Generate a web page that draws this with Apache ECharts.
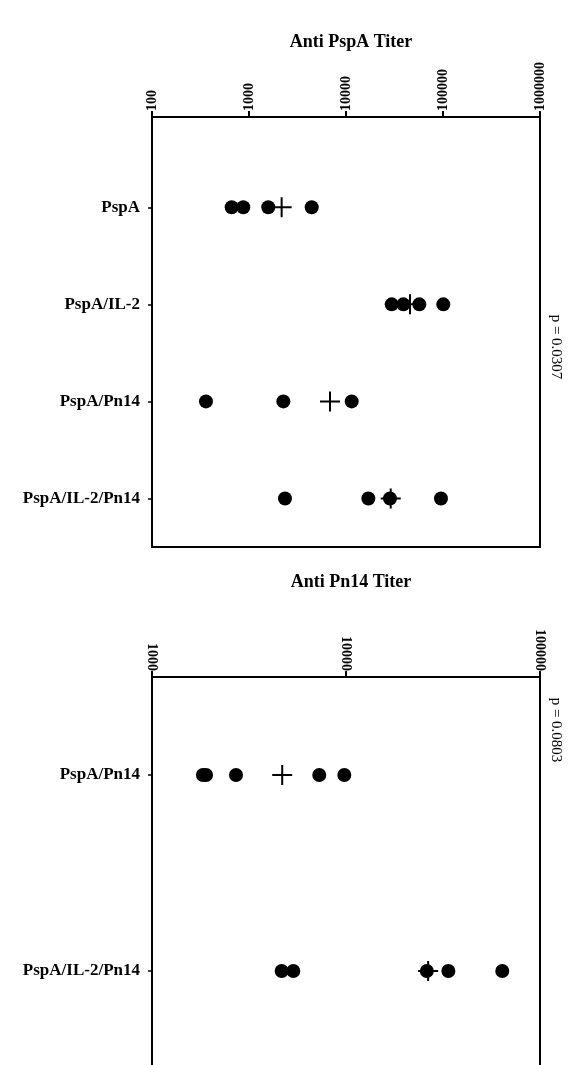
<!DOCTYPE html>
<html>
<head>
<meta charset="utf-8">
<script src="https://cdn.jsdelivr.net/npm/echarts@6/dist/echarts.min.js"></script>
<style>html,body{margin:0;padding:0;background:#fff}#c{width:578px;height:1065px}</style>
</head>
<body>
<div id="c"></div>
<script>
// ---- data ----
var topCategories = ['PspA', 'PspA/IL-2', 'PspA/Pn14', 'PspA/IL-2/Pn14'];
var topTickLabels = ['100', '1000', '10000', '100000', '1000000'];
var pspaPspA = [663, 873, 1580, 4430];
var pspaIL2 = [29600, 39000, 57000, 100700];
var pspaPn14 = [360, 2260, 11450];
var pspaIL2Pn14 = [2350, 17000, 28400, 95300];
var pspaMeans = [2170, 45700, 6840, 28900];

var bottomCategories = ['PspA/Pn14', 'PspA/IL-2/Pn14'];
var bottomTickLabels = ['1000', '10000', '100000'];
var pn14Pn14 = [1830, 1900, 2710, 7280, 9800];
var pn14IL2Pn14 = [4660, 5350, 26100, 33700, 63900];
var pn14Means = [4690, 26500];

var pValues = ['p = 0.0307', 'p = 0.0803'];
var titles = ['Anti PspA Titer', 'Anti Pn14 Titer'];

// ---- build ----
function pts(arr, idx) { return arr.map(function (v) { return [v, idx]; }); }
var topDots = [].concat(pts(pspaPspA, 1), pts(pspaIL2, 2), pts(pspaPn14, 3), pts(pspaIL2Pn14, 4));
var topPlus = pspaMeans.map(function (v, i) { return [v, i + 1]; });
var botPos = [1, 3];
var botDots = [].concat(pts(pn14Pn14, botPos[0]), pts(pn14IL2Pn14, botPos[1]));
var botPlus = pn14Means.map(function (v, i) { return [v, botPos[i]]; });

var plusPath = 'path://M-1,-10h2v9h9v2h-9v9h-2v-9h-9v-2h9z';
var serif = '"Liberation Serif", "DejaVu Serif", serif';

function xAxis(gi, min, max, labels) {
  return {
    gridIndex: gi, type: 'log', logBase: 10, min: min, max: max, position: 'top',
    axisLine: { show: true, lineStyle: { color: '#000', width: 2 } },
    axisTick: { show: true, inside: false, length: 6, lineStyle: { color: '#000', width: 2 } },
    minorTick: { show: false },
    splitLine: { show: false },
    axisLabel: {
      rotate: -90, margin: 6, color: '#000', fontFamily: serif, fontWeight: 'bold', fontSize: 14,
      formatter: function (v) {
        var i = Math.round(Math.log10(v) - Math.log10(min));
        return labels[i] || '';
      }
    }
  };
}
function yAxis(gi, min, max, cats, vals) {
  return {
    gridIndex: gi, type: 'value', inverse: true, min: min, max: max,
    axisLine: { show: true, lineStyle: { color: '#000', width: 2 } },
    axisTick: { show: true, length: 4, customValues: vals, lineStyle: { color: '#000', width: 1.5 } },
    splitLine: { show: false },
    axisLabel: {
      customValues: vals, margin: 12, color: '#000', fontFamily: serif, fontWeight: 'bold', fontSize: 17,
      formatter: function (v) { return cats[vals.indexOf(Math.round(v))] || ''; }
    }
  };
}

var chart = echarts.init(document.getElementById('c'), null, { renderer: 'canvas' });
chart.setOption({
  backgroundColor: '#fff',
  animation: false,
  title: [
    { text: titles[0], left: 346, top: 28, textAlign: 'center',
      textStyle: { fontFamily: serif, fontWeight: 'bold', fontSize: 18, color: '#000' } },
    { text: titles[1], left: 346, top: 568, textAlign: 'center',
      textStyle: { fontFamily: serif, fontWeight: 'bold', fontSize: 18, color: '#000' } }
  ],
  grid: [
    { left: 152, right: 38, top: 117, height: 430, show: true, borderColor: '#000', borderWidth: 2,
      backgroundColor: 'transparent', outerBoundsMode: 'none', containLabel: false },
    { left: 152, right: 38, top: 677, height: 490, show: true, borderColor: '#000', borderWidth: 2,
      backgroundColor: 'transparent', outerBoundsMode: 'none', containLabel: false }
  ],
  xAxis: [xAxis(0, 100, 1000000, topTickLabels), xAxis(1, 1000, 100000, bottomTickLabels)],
  yAxis: [yAxis(0, 0.07, 4.5, topCategories, [1, 2, 3, 4]), yAxis(1, 0, 5, bottomCategories, botPos)],
  series: [
    { type: 'scatter', xAxisIndex: 0, yAxisIndex: 0, data: topDots, symbol: 'circle', symbolSize: 14,
      itemStyle: { color: '#000', opacity: 1 } },
    { type: 'scatter', xAxisIndex: 0, yAxisIndex: 0, data: topPlus, symbol: plusPath, symbolSize: 20,
      itemStyle: { color: '#000', opacity: 1 }, z: 3 },
    { type: 'scatter', xAxisIndex: 1, yAxisIndex: 1, data: botDots,
      symbol: 'circle', symbolSize: 14, itemStyle: { color: '#000', opacity: 1 } },
    { type: 'scatter', xAxisIndex: 1, yAxisIndex: 1, data: botPlus,
      symbol: plusPath, symbolSize: 20, itemStyle: { color: '#000', opacity: 1 }, z: 3 }
  ],
  graphic: [
    { type: 'text', x: 556, y: 347, rotation: -Math.PI / 2,
      style: { text: pValues[0], fontFamily: serif, fontSize: 15, fill: '#000', align: 'center', verticalAlign: 'middle' } },
    { type: 'text', x: 556, y: 730, rotation: -Math.PI / 2,
      style: { text: pValues[1], fontFamily: serif, fontSize: 15, fill: '#000', align: 'center', verticalAlign: 'middle' } }
  ]
});
</script>
</body>
</html>
